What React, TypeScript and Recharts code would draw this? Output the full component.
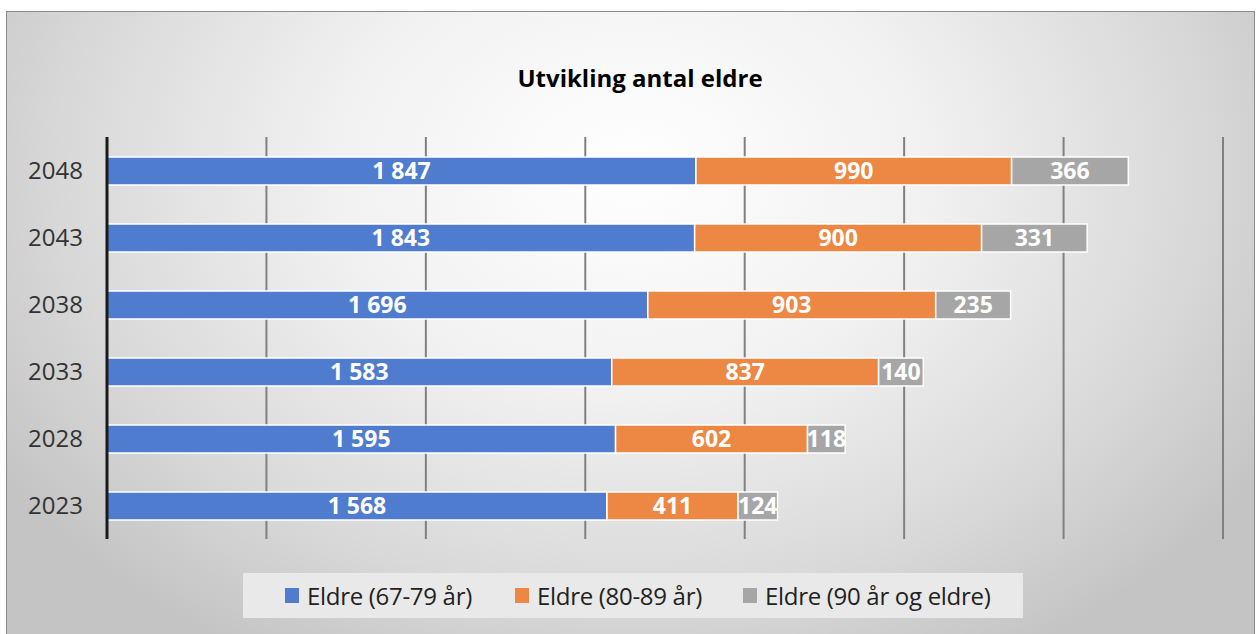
import React from 'react';
import { BarChart, Bar, XAxis, YAxis, CartesianGrid, LabelList } from 'recharts';

const years = ['2048', '2043', '2038', '2033', '2028', '2023'];
const age6779 = [1847, 1843, 1696, 1583, 1595, 1568];
const age8089 = [990, 900, 903, 837, 602, 411];
const age90 = [366, 331, 235, 140, 118, 124];
const xTicks = [0, 500, 1000, 1500, 2000, 2500, 3000, 3500];

const series = [
  { key: 'a', name: 'Eldre (67-79 år)', color: '#4f7ccf', left: 285 },
  { key: 'b', name: 'Eldre (80-89 år)', color: '#ed8744', left: 515 },
  { key: 'c', name: 'Eldre (90 år og eldre)', color: '#a6a6a6', left: 743 },
];

const data = years.map((year, i) => ({ year, a: age6779[i], b: age8089[i], c: age90[i] }));

const fmt = (v: any) => String(v).replace(/\B(?=(\d{3})+(?!\d))/g, ' ');
const font = '"Open Sans", Lato, sans-serif';

const LegendBox = () => (
  <div
    style={{
      position: 'absolute', left: 243, top: 573, width: 780, height: 45,
      background: '#e9e9e9', fontFamily: font, fontSize: 24, color: '#222',
    }}
  >
    {series.map((s) => (
      <div
        key={s.key}
        style={{ position: 'absolute', left: s.left - 243, top: 0, height: 45, display: 'flex', alignItems: 'center', whiteSpace: 'nowrap' }}
      >
        <span style={{ width: 14, height: 15, background: s.color, marginRight: 8, display: 'inline-block' }} />
        <span style={{ letterSpacing: -0.3 }}>{s.name}</span>
      </div>
    ))}
  </div>
);

export default function App() {
  return (
    <div
      style={{
        position: 'absolute', left: 0, top: 0, width: 1258, height: 634, background: '#fff', overflow: 'hidden',
      }}
    >
      <div
        style={{
          position: 'absolute', left: 6, top: 11, width: 1249, height: 630,
          border: '1px solid #8c8c8c', boxSizing: 'border-box',
          background: 'radial-gradient(ellipse 60% 90% at 50% 25%, #ffffff 0%, #f1f1f1 40%, #d9d9d9 75%, #c4c4c4 100%)',
        }}
      />
      <div
        style={{
          position: 'absolute', left: 0, top: 61, width: 1280, textAlign: 'center',
          fontFamily: font, fontWeight: 700, fontSize: 24, color: '#000',
        }}
      >
        Utvikling antal eldre
      </div>
      <div style={{ position: 'absolute', left: 0, top: 0 }}>
        <BarChart
          width={1258}
          height={634}
          data={data}
          layout="vertical"
          margin={{ top: 137, right: 35, bottom: 94, left: 0 }}
          barSize={28}
        >
          <CartesianGrid horizontal={false} stroke="#808080" strokeWidth={2} />
          <XAxis
            type="number"
            domain={[0, 3500]}
            ticks={xTicks}
            interval={0}
            tick={() => <g />}
            axisLine={false}
            tickLine={false}
            height={1}
          />
          <YAxis
            type="category"
            dataKey="year"
            width={107}
            axisLine={{ stroke: '#1a1a1a', strokeWidth: 3 }}
            tickLine={false}
            tick={{ fill: '#333', fontSize: 24, fontFamily: font }}
            tickMargin={18}
          />
          {series.map((s) => (
            <Bar key={s.key} dataKey={s.key} name={s.name} stackId="s" fill={s.color} stroke="#fff" strokeWidth={1.5} isAnimationActive={false}>
              <LabelList
                dataKey={s.key}
                position="center"
                formatter={fmt}
                style={{ fill: '#fff', fontWeight: 700, fontSize: 23, fontFamily: font }}
              />
            </Bar>
          ))}
        </BarChart>
      </div>
      <LegendBox />
    </div>
  );
}
